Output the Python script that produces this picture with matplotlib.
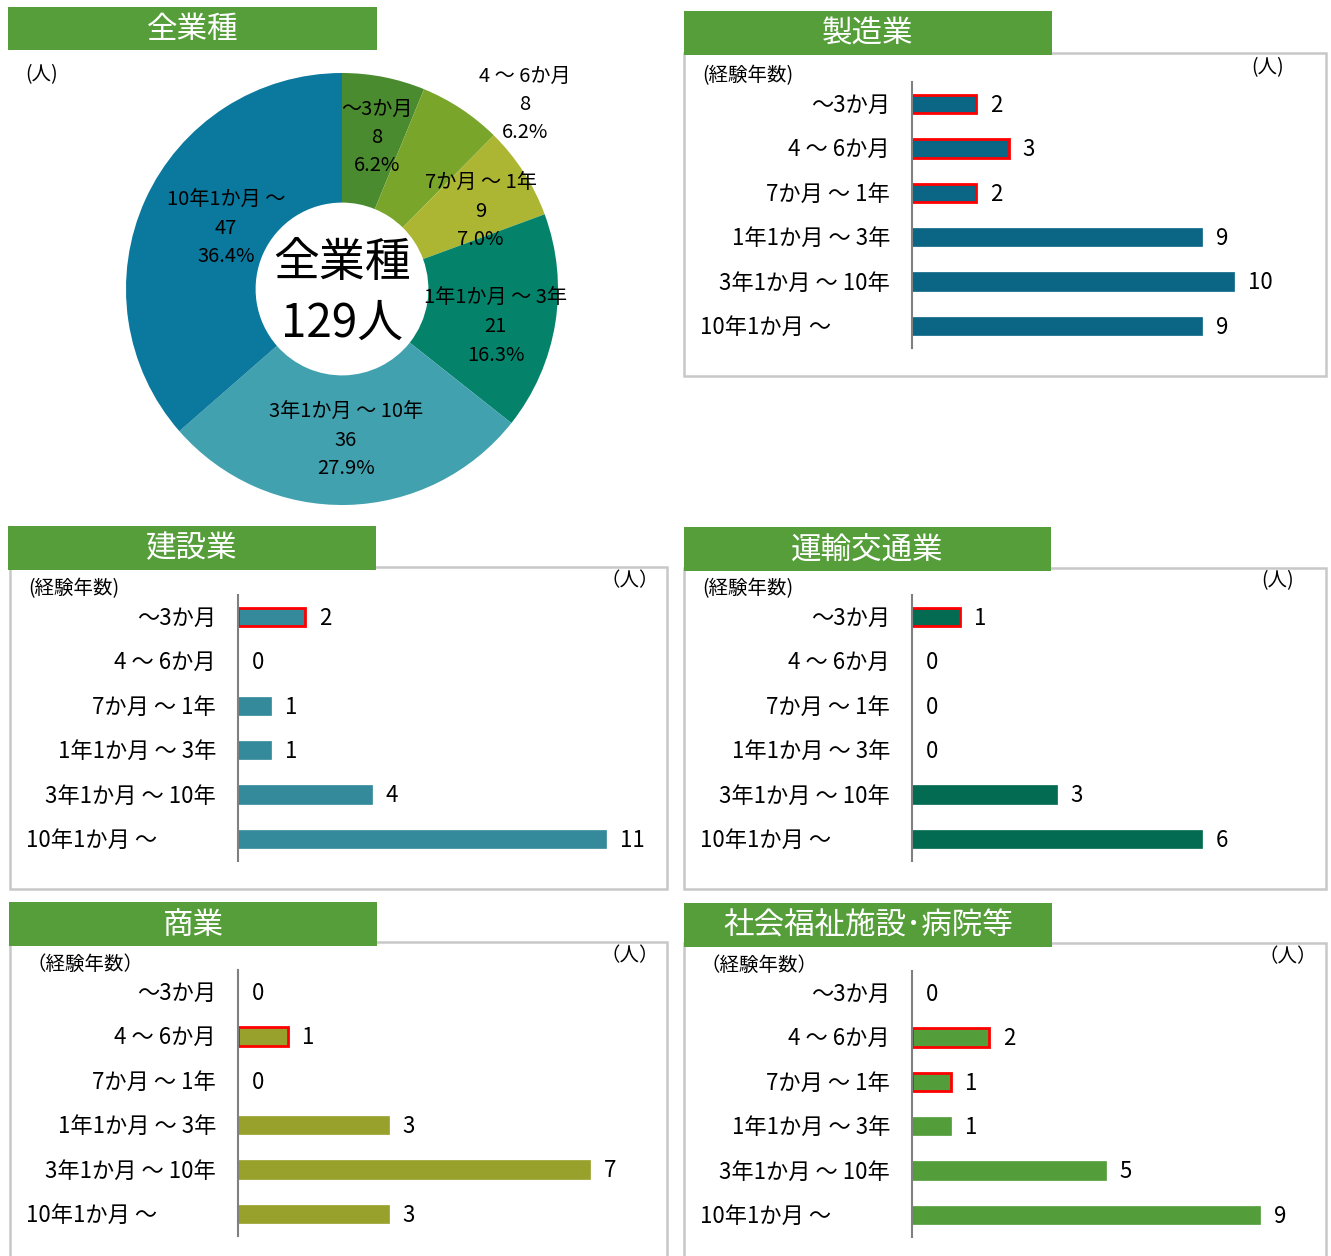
import numpy as np
import matplotlib
matplotlib.use('Agg')
import matplotlib.pyplot as plt
from matplotlib.patches import Rectangle

plt.rcParams['font.family'] = ['Noto Sans CJK JP', 'DejaVu Sans']

# データ
categories = ['～3か月', '4 ～ 6か月', '7か月 ～ 1年', '1年1か月 ～ 3年', '3年1か月 ～ 10年', '10年1か月 ～']
all_counts = [8, 8, 9, 21, 36, 47]
manufacturing = [2, 3, 2, 9, 10, 9]
construction = [2, 0, 1, 1, 4, 11]
transport = [1, 0, 0, 0, 3, 6]
commerce = [0, 1, 0, 3, 7, 3]
welfare = [0, 2, 1, 1, 5, 9]

manufacturing_red = [0, 1, 2]
construction_red = [0]
transport_red = [0]
commerce_red = [1]
welfare_red = [1, 2]

W, H = 1331, 1256
GREEN = '#559e3a'
FRAME = '#c8c8c8'

fig = plt.figure(figsize=(W / 100, H / 100), dpi=100)
bg = fig.add_axes([0, 0, 1, 1])
bg.set_xlim(0, W)
bg.set_ylim(H, 0)
bg.axis('off')


def title_bar(x0, y0, x1, y1, text):
    bg.add_patch(Rectangle((x0, y0), x1 - x0, y1 - y0, facecolor=GREEN,
                           edgecolor='none', zorder=3))
    bg.text((x0 + x1) / 2, (y0 + y1) / 2 + 1, text, color='white', fontsize=22,
            ha='center', va='center', zorder=4)


def frame(x0, y0, x1, y1):
    bg.add_patch(Rectangle((x0, y0), x1 - x0, y1 - y0, facecolor='white',
                           edgecolor=FRAME, lw=1.8, zorder=1))


def bar_panel(values, red_idx, color, axis_x, row_top, row_bot, px_unit,
              width_px, label_left_x):
    step = (row_bot - row_top) / 5
    top = row_top - step / 2
    bot = row_bot + step / 2
    ax = fig.add_axes([axis_x / W, 1 - bot / H, width_px / W, (bot - top) / H])
    ax.set_xlim(0, width_px / px_unit)
    ax.set_ylim(5.5, -0.5)
    y = np.arange(len(values))
    ec = ['#ff0000' if i in red_idx else color for i in range(len(values))]
    lw = [2 if i in red_idx else 0.5 for i in range(len(values))]
    ax.barh(y, values, height=0.41, color=color, edgecolor=ec, linewidth=lw)
    for yi, v in zip(y, values):
        ax.annotate(str(v), (v, yi + 0.03), xytext=(10, 0),
                    textcoords='offset points', va='center', ha='left',
                    fontsize=16)
    for yi, c in zip(y, categories):
        if yi == len(categories) - 1:
            ax.text((label_left_x - axis_x) / width_px, yi + 0.03, c,
                    fontsize=16, ha='left', va='center',
                    transform=ax.get_yaxis_transform())
        else:
            ax.text(-22 / width_px, yi + 0.03, c, fontsize=16, ha='right',
                    va='center', transform=ax.get_yaxis_transform())
    ax.set_yticks([])
    ax.set_xticks([])
    for s in ['top', 'right', 'bottom']:
        ax.spines[s].set_visible(False)
    ax.spines['left'].set_color('#808080')
    ax.spines['left'].set_linewidth(1.5)
    ax.patch.set_alpha(0)
    return ax


# 全業種 (ドーナツ)
title_bar(8, 7, 377, 50, '全業種')
bg.text(42, 75, '(人)', fontsize=14, ha='center', va='center')

pie_colors = ['#4b8b2f', '#7aa52b', '#acb633', '#04836a', '#42a1af', '#0b789d']
cx, cy, R = 342, 289, 216
pax = fig.add_axes([(cx - R) / W, 1 - (cy + R) / H, 2 * R / W, 2 * R / H])
wedges, _ = pax.pie(all_counts, colors=pie_colors, startangle=90,
                    counterclock=False, radius=1,
                    wedgeprops=dict(width=0.6, edgecolor='none'))
pax.set_xlim(-1, 1)
pax.set_ylim(-1, 1)
pax.set_aspect('equal')

total = sum(all_counts)
label_r = [0.73, 1.21, 0.74, 0.73, 0.69, 0.61]
angle_adj = [1.5, 11, 3, 4, 0, 4]
cum = np.cumsum(all_counts)
for i, (c, v) in enumerate(zip(categories, all_counts)):
    mid = (cum[i] - v / 2) / total * 360 + angle_adj[i]
    th = np.deg2rad(90 - mid)
    pax.text(label_r[i] * np.cos(th), label_r[i] * np.sin(th) - 0.01,
             f'{c}\n{v}\n{v / total * 100:.1f}%', fontsize=14.5, ha='center',
             va='center', linespacing=1.45)
pax.text(0, 0.12, '全業種', fontsize=33, ha='center', va='center')
pax.text(0, -0.16, f'{total}人', fontsize=33, ha='center', va='center')

# 製造業
frame(684, 53, 1326, 376)
title_bar(684, 11, 1052, 55, '製造業')
bg.text(748, 76, '(経験年数)', fontsize=14, ha='center', va='center')
bg.text(1268, 68, '(人)', fontsize=14, ha='center', va='center')
bar_panel(manufacturing, manufacturing_red, '#0b6584', 912, 104, 326, 32.2,
          400, 700)

# 建設業
frame(10, 567, 667, 889)
title_bar(8, 526, 376, 570, '建設業')
bg.text(74, 589, '(経験年数)', fontsize=14, ha='center', va='center')
bg.text(630, 581, '（人）', fontsize=14, ha='center', va='center')
bar_panel(construction, construction_red, '#348a9a', 238, 617, 839, 33.45,
          412, 26)

# 運輸交通業
frame(684, 568, 1326, 889)
title_bar(684, 527, 1051, 571, '運輸交通業')
bg.text(748, 589, '(経験年数)', fontsize=14, ha='center', va='center')
bg.text(1278, 581, '(人)', fontsize=14, ha='center', va='center')
bar_panel(transport, transport_red, '#046b53', 912, 617, 839, 48.3, 400, 700)

# 商業
frame(10, 942, 667, 1270)
title_bar(9, 902, 377, 946, '商業')
bg.text(85, 964, '（経験年数）', fontsize=14, ha='center', va='center')
bg.text(630, 956, '（人）', fontsize=14, ha='center', va='center')
bar_panel(commerce, commerce_red, '#98a12b', 238, 992, 1214, 50.3, 412, 26)

# 社会福祉施設・病院等
frame(684, 943, 1326, 1270)
title_bar(684, 903, 1052, 947, '社会福祉施設･病院等')
bg.text(759, 965, '（経験年数）', fontsize=14, ha='center', va='center')
bg.text(1288, 957, '（人）', fontsize=14, ha='center', va='center')
bar_panel(welfare, welfare_red, '#539d3a', 912, 993, 1215, 38.7, 400, 700)

fig.savefig('out.png', dpi=100)
